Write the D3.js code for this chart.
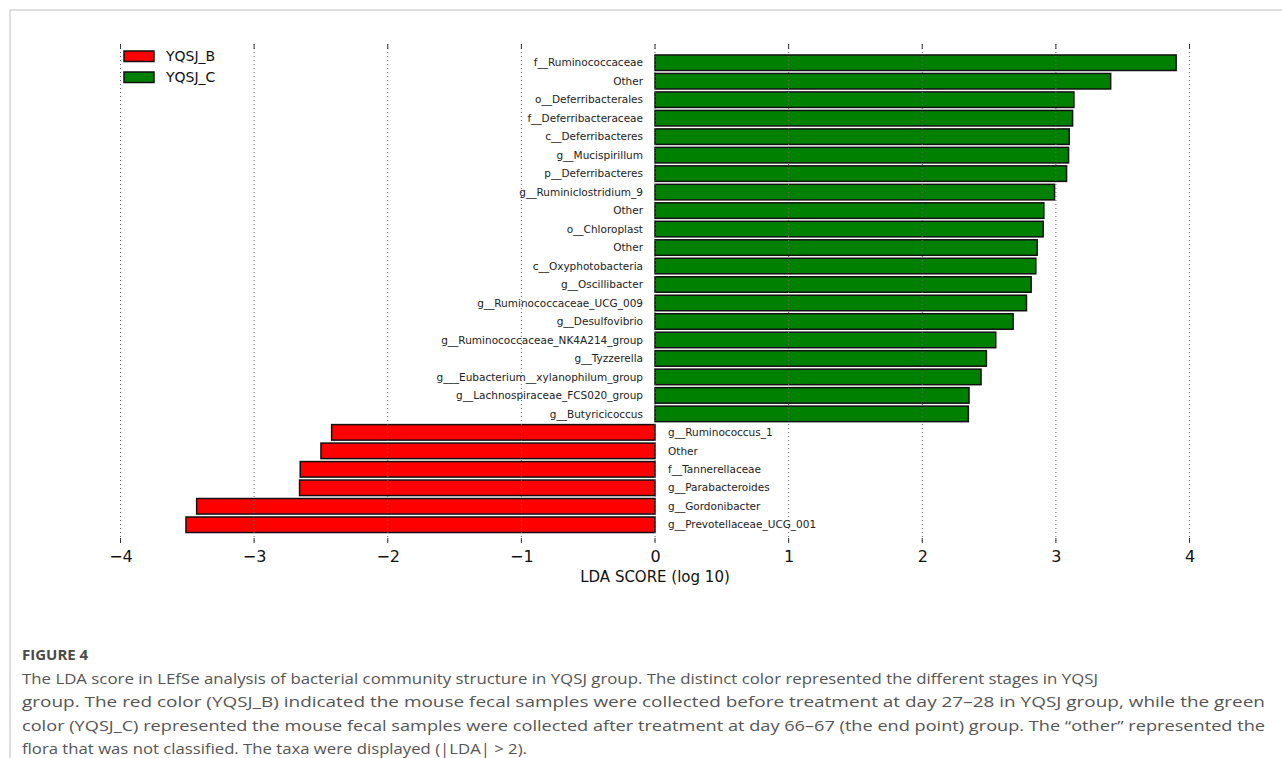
<!DOCTYPE html>
<html>
<head>
<meta charset="utf-8">
<script src="https://cdn.jsdelivr.net/npm/d3@7"></script>
<style>
  body { margin: 0; background: #fff; }
  svg { display: block; }
  .caption { font-family: "Open Sans", sans-serif; fill: #555; }
</style>
</head>
<body>
<svg id="chart" width="1282" height="758"></svg>
<script>
const width = 1282;
const height = 758;

// taxa, top to bottom as drawn
const taxa = [
  'f__Ruminococcaceae', 'Other', 'o__Deferribacterales', 'f__Deferribacteraceae',
  'c__Deferribacteres', 'g__Mucispirillum', 'p__Deferribacteres', 'g__Ruminiclostridium_9',
  'Other', 'o__Chloroplast', 'Other', 'c__Oxyphotobacteria', 'g__Oscillibacter',
  'g__Ruminococcaceae_UCG_009', 'g__Desulfovibrio', 'g__Ruminococcaceae_NK4A214_group',
  'g__Tyzzerella', 'g___Eubacterium__xylanophilum_group', 'g__Lachnospiraceae_FCS020_group',
  'g__Butyricicoccus', 'g__Ruminococcus_1', 'Other', 'f__Tannerellaceae',
  'g__Parabacteroides', 'g__Gordonibacter', 'g__Prevotellaceae_UCG_001'
];
const ldaScores = [
  3.90, 3.41, 3.135, 3.125, 3.10, 3.095, 3.08, 2.99, 2.91, 2.905, 2.86, 2.85, 2.815,
  2.78, 2.68, 2.55, 2.48, 2.44, 2.35, 2.345,
  -2.42, -2.50, -2.655, -2.66, -3.43, -3.51
];
const groups = ['YQSJ_B', 'YQSJ_C'];
const groupColors = ['#ff0000', '#008000'];
const xTicks = [-4, -3, -2, -1, 0, 1, 2, 3, 4];

const captionTitle = 'FIGURE 4';
const captionLines = [
  'The LDA score in LEfSe analysis of bacterial community structure in YQSJ group. The distinct color represented the different stages in YQSJ',
  'group. The red color (YQSJ_B) indicated the mouse fecal samples were collected before treatment at day 27\u201328 in YQSJ group, while the green',
  'color (YQSJ_C) represented the mouse fecal samples were collected after treatment at day 66\u201367 (the end point) group. The \u201cother\u201d represented the',
  'flora that was not classified. The taxa were displayed (|LDA| > 2).'
];

const rows = taxa.map((t, i) => ({ id: i, taxon: t, score: ldaScores[i] }));

const svg = d3.select('#chart')
  .attr('viewBox', `0 0 ${width} ${height}`);

// light frame round the figure
svg.append('path')
  .attr('d', `M10,${height} V10 H${width}`)
  .attr('fill', 'none')
  .attr('stroke', '#d4d4d4')
  .attr('stroke-width', 1.5);

const x = d3.scaleLinear()
  .domain([-4, 4])
  .range([120.5, 1189.5]);

const y = d3.scaleBand()
  .domain(rows.map(d => d.id))
  .range([53.5, 534])
  .paddingInner(0.16)
  .paddingOuter(0.08);

const gridTop = 44;
const gridBottom = 543;

// bars
svg.append('g')
  .selectAll('rect')
  .data(rows)
  .join('rect')
  .attr('x', d => x(Math.min(0, d.score)))
  .attr('y', d => y(d.id))
  .attr('width', d => Math.abs(x(d.score) - x(0)))
  .attr('height', y.bandwidth())
  .attr('fill', d => d.score < 0 ? groupColors[0] : groupColors[1])
  .attr('stroke', '#111')
  .attr('stroke-width', 1.5);

// dotted grid, drawn over the bars
svg.append('g')
  .selectAll('line')
  .data(xTicks)
  .join('line')
  .attr('x1', d => x(d))
  .attr('x2', d => x(d))
  .attr('y1', gridTop)
  .attr('y2', gridBottom)
  .attr('stroke', '#666')
  .attr('stroke-width', 1)
  .attr('stroke-dasharray', '1,3');

// tick marks top and bottom
const tickMarks = svg.append('g').attr('stroke', '#333').attr('stroke-width', 1);
xTicks.forEach(t => {
  tickMarks.append('line').attr('x1', x(t)).attr('x2', x(t)).attr('y1', gridTop).attr('y2', gridTop + 5);
  tickMarks.append('line').attr('x1', x(t)).attr('x2', x(t)).attr('y1', gridBottom - 5).attr('y2', gridBottom);
});

// axis labels
const xAxis = d3.axisBottom(x)
  .tickValues(xTicks)
  .tickSize(0)
  .tickPadding(0)
  .tickFormat(d3.format('d'));

const axisG = svg.append('g')
  .attr('transform', `translate(0,${gridBottom + 5})`)
  .call(xAxis);
axisG.select('.domain').remove();
axisG.selectAll('text')
  .attr('font-family', '"DejaVu Sans", sans-serif')
  .attr('font-size', 16)
  .attr('fill', '#111')
  .attr('dy', '0.9em');

svg.append('text')
  .attr('x', x(0))
  .attr('y', 582)
  .attr('text-anchor', 'middle')
  .attr('font-family', '"DejaVu Sans", sans-serif')
  .attr('font-size', 15)
  .attr('fill', '#111')
  .text('LDA SCORE (log 10)');

// taxon names beside the zero line
svg.append('g')
  .selectAll('text')
  .data(rows)
  .join('text')
  .attr('x', d => d.score < 0 ? x(0) + 13 : x(0) - 12)
  .attr('y', d => y(d.id) + y.bandwidth() / 2)
  .attr('dy', '0.35em')
  .attr('text-anchor', d => d.score < 0 ? 'start' : 'end')
  .attr('font-family', '"DejaVu Sans", sans-serif')
  .attr('font-size', 10.5)
  .attr('fill', '#222')
  .text(d => d.taxon);

// legend
const legend = svg.append('g').attr('transform', 'translate(124,51)');
groups.forEach((g, i) => {
  legend.append('rect')
    .attr('x', 0)
    .attr('y', i * 21)
    .attr('width', 30)
    .attr('height', 10.5)
    .attr('fill', groupColors[i])
    .attr('stroke', '#111')
    .attr('stroke-width', 1.5);
  legend.append('text')
    .attr('x', 42)
    .attr('y', i * 21 + 5.5)
    .attr('dy', '0.35em')
    .attr('font-family', '"DejaVu Sans", sans-serif')
    .attr('font-size', 14)
    .attr('fill', '#111')
    .text(g);
});

// caption
const cap = svg.append('g').attr('class', 'caption');
cap.append('text')
  .attr('x', 22)
  .attr('y', 660)
  .attr('font-size', 15)
  .attr('font-weight', 700)
  .attr('fill', '#4a4a4a')
  .text(captionTitle);

// widths the caption lines take in the figure
const lineWidths = [1076, 1243, 1243, 505];
captionLines.forEach((line, i) => {
  cap.append('text')
    .attr('x', 22)
    .attr('y', 684 + i * 23.3)
    .attr('font-size', 14.5)
    .attr('textLength', lineWidths[i])
    .attr('lengthAdjust', 'spacingAndGlyphs')
    .text(line);
});
</script>
</body>
</html>
